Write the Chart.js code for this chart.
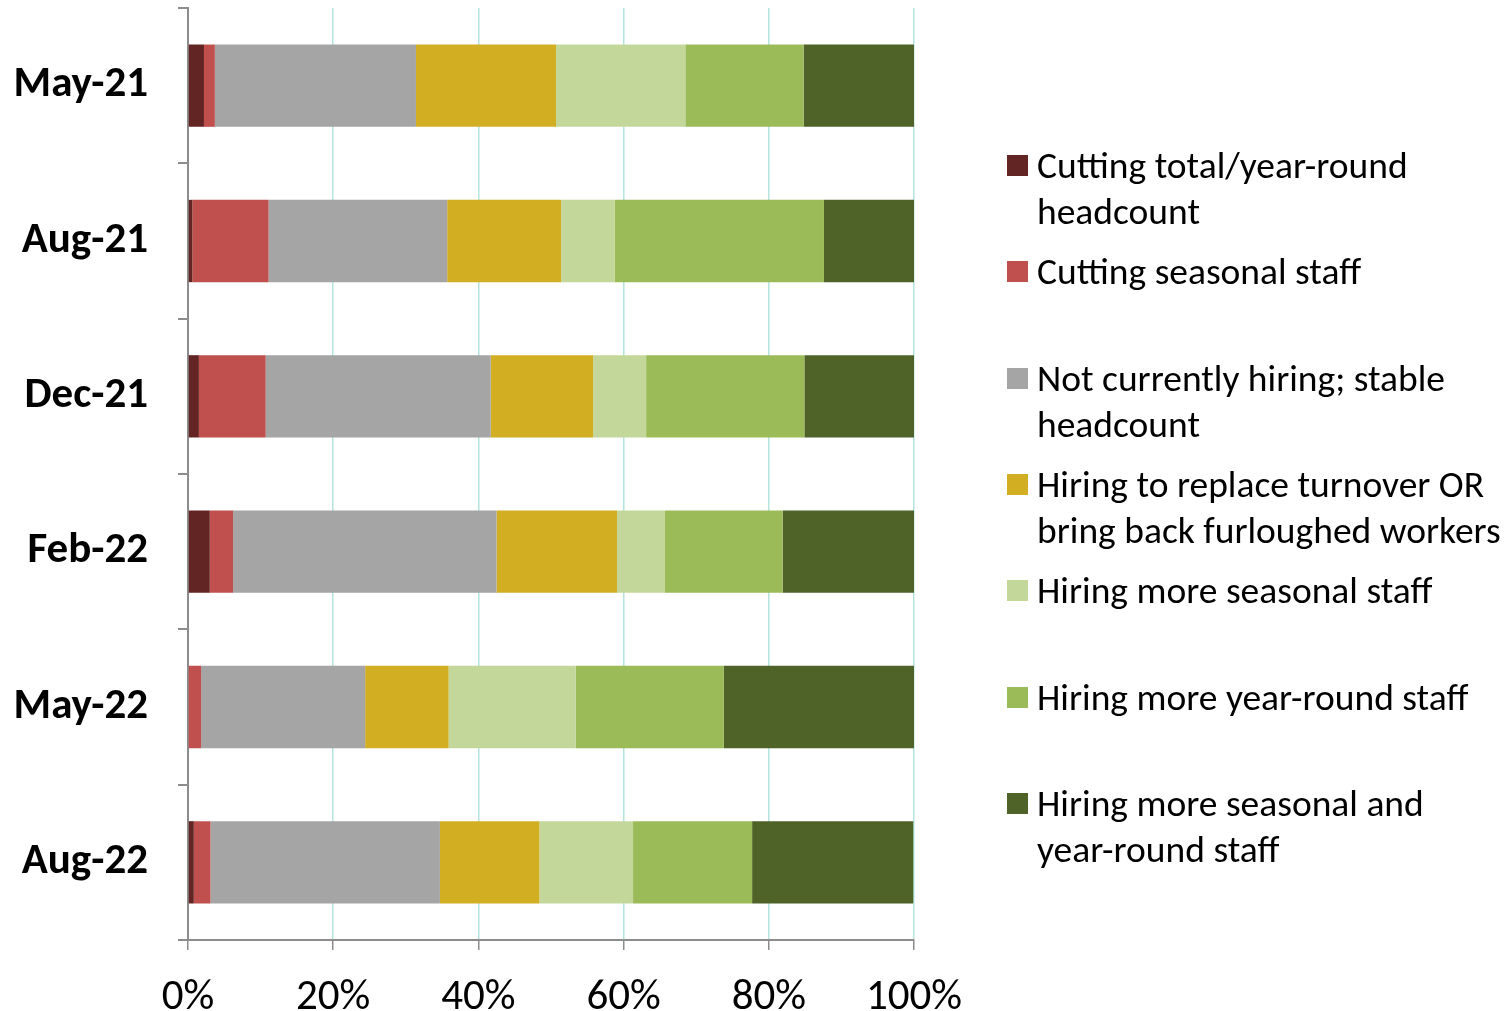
<!DOCTYPE html>
<html>
<head>
<meta charset="utf-8">
<script src="https://cdn.jsdelivr.net/npm/chart.js@4.4.1/dist/chart.umd.min.js"></script>
<style>
  html, body { margin: 0; padding: 0; background: #ffffff; }
  #wrap { position: relative; width: 1505px; height: 1011px; }
  #chart { position: absolute; left: 0; top: 0; }
  #legend {
    position: absolute; left: 1007px; top: 0;
    font-family: Calibri, Carlito, Lato, sans-serif; font-size: 37.5px; color: #000;
  }
  .item { position: absolute; left: 0; white-space: nowrap; }
  .swatch { position: absolute; left: 0; top: 13px; width: 21px; height: 21px; }
  .label { position: absolute; left: 30px; top: 0; line-height: 46px; }
</style>
</head>
<body>
<div id="wrap">
  <canvas id="chart" width="1505" height="1011"></canvas>
  <div id="legend"></div>
</div>
<script>
// Survey periods (one horizontal bar each)
const periods = ['May-21', 'Aug-21', 'Dec-21', 'Feb-22', 'May-22', 'Aug-22'];

// Share of respondents (%) per staffing plan, in period order
const cuttingTotal     = [2.2, 0.6, 1.5, 3.0, 0.0, 0.8];
const cuttingSeasonal  = [1.5, 10.5, 9.2, 3.2, 1.8, 2.3];
const notHiring        = [27.7, 24.6, 31.0, 36.3, 22.6, 31.6];
const replacing        = [19.3, 15.7, 14.1, 16.6, 11.5, 13.7];
const hiringSeasonal   = [17.8, 7.4, 7.3, 6.6, 17.5, 12.9];
const hiringYearRound  = [16.3, 28.8, 21.8, 16.2, 20.4, 16.4];
const hiringBoth       = [15.2, 12.4, 15.1, 18.2, 26.2, 22.2];

// Legend labels (line breaks as displayed)
const seriesLabels = [
  ['Cutting total/year-round', 'headcount'],
  ['Cutting seasonal staff'],
  ['Not currently hiring; stable', 'headcount'],
  ['Hiring to replace turnover OR', 'bring back furloughed workers'],
  ['Hiring more seasonal staff'],
  ['Hiring more year-round staff'],
  ['Hiring more seasonal and', 'year-round staff']
];
const seriesColors = ['#632523', '#C0504D', '#A5A5A5', '#D2AE22', '#C4D79B', '#9BBB59', '#4F6228'];

// x-axis tick labels
const xTickLabels = ['0%', '20%', '40%', '60%', '80%', '100%'];

const seriesValues = [cuttingTotal, cuttingSeasonal, notHiring, replacing, hiringSeasonal, hiringYearRound, hiringBoth];

const datasets = seriesValues.map((vals, i) => ({
  label: seriesLabels[i].join(' '),
  data: vals,
  backgroundColor: seriesColors[i],
  borderWidth: 0,
  barPercentage: 0.53,
  categoryPercentage: 1.0
}));

const FONT = "Calibri, Carlito, Lato, sans-serif";

new Chart(document.getElementById('chart'), {
  type: 'bar',
  data: { labels: periods, datasets },
  options: {
    indexAxis: 'y',
    responsive: false,
    animation: false,
    layout: { padding: { top: 8, right: 591, left: 0, bottom: 0 } },
    plugins: { legend: { display: false }, tooltip: { enabled: false } },
    scales: {
      x: {
        stacked: true,
        min: 0, max: 100,
        afterFit: (s) => { s.height = 71; s.paddingLeft = 0; s.paddingRight = 0; },
        ticks: {
          stepSize: 20,
          maxRotation: 0,
          padding: 22,
          color: '#000',
          font: { family: FONT, size: 43 },
          callback: (v, i) => xTickLabels[i]
        },
        grid: {
          color: (ctx) => ctx.tick && ctx.tick.value === 0 ? 'rgba(0,0,0,0)' : '#B4E4DD',
          lineWidth: 1.5,
          tickColor: '#8C8C8C',
          tickLength: 10,
          drawTicks: true
        },
        border: { display: true, color: '#8C8C8C', width: 2 }
      },
      y: {
        stacked: true,
        afterFit: (s) => { s.width = 188; s.paddingTop = 0; s.paddingBottom = 0; },
        ticks: {
          color: '#000',
          padding: 30,
          font: { family: FONT, size: 43, weight: 'bold' }
        },
        grid: {
          offset: true,
          drawOnChartArea: false,
          tickColor: '#8C8C8C',
          tickLength: 10,
          lineWidth: 2
        },
        border: { display: true, color: '#8C8C8C', width: 2 }
      }
    }
  }
});

// HTML legend beside the plot
const legend = document.getElementById('legend');
seriesLabels.forEach((lines, i) => {
  const item = document.createElement('div');
  item.className = 'item';
  item.style.top = (142 + 106.3 * i) + 'px';
  const sw = document.createElement('div');
  sw.className = 'swatch';
  sw.style.background = seriesColors[i];
  const lab = document.createElement('div');
  lab.className = 'label';
  lab.innerHTML = lines.join('<br>');
  item.appendChild(sw);
  item.appendChild(lab);
  legend.appendChild(item);
});
</script>
</body>
</html>
